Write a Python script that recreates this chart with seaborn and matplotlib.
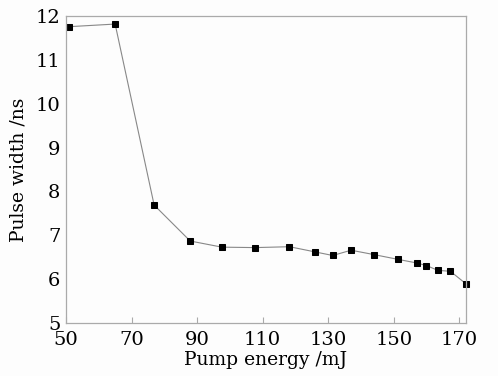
import matplotlib
matplotlib.use("Agg")
import matplotlib.pyplot as plt
import seaborn as sns
import pandas as pd

pump_energy = [50.9, 65.0, 76.9, 87.9, 97.6, 107.7, 118.2, 126.1, 131.4, 137.0,
               144.0, 151.4, 157.0, 160.0, 163.5, 167.3, 172.1]
pulse_width = [11.76, 11.82, 7.69, 6.87, 6.73, 6.72, 6.74, 6.62, 6.54, 6.66,
               6.56, 6.45, 6.37, 6.31, 6.20, 6.18, 5.89]
x_ticks = [50, 70, 90, 110, 130, 150, 170]
y_ticks = [5, 6, 7, 8, 9, 10, 11, 12]

sns.set_theme(style="ticks")
plt.rcParams['font.family'] = ['DejaVu Serif']
plt.rcParams['text.color'] = 'black'
plt.rcParams['axes.labelcolor'] = 'black'
plt.rcParams['xtick.color'] = 'black'
plt.rcParams['ytick.color'] = 'black'

df = pd.DataFrame({"Pump energy /mJ": pump_energy, "Pulse width /ns": pulse_width})

fig = plt.figure(figsize=(4.98, 3.76), dpi=100)
fig.patch.set_facecolor("#fdfdfd")
ax = fig.add_axes([0.1325, 0.141, 0.8035, 0.816])
ax.set_facecolor("#fdfdfd")
sns.lineplot(data=df, x="Pump energy /mJ", y="Pulse width /ns", ax=ax,
             color="#888888", linewidth=0.8, marker="s", markersize=4.3,
             markerfacecolor="black", markeredgecolor="black", sort=False,
             clip_on=False)

ax.set_xlim(50, 172.1)
ax.set_ylim(5, 12)
ax.set_xticks(x_ticks)
ax.set_yticks(y_ticks)
ax.tick_params(axis="x", direction="in", length=4, width=0.8, color="#aaaaaa",
               labelsize=14, pad=6, labelcolor="black")
ax.tick_params(axis="y", direction="in", length=0, labelsize=14, pad=4,
               labelcolor="black")
for s in ax.spines.values():
    s.set_color("#aaaaaa")
    s.set_linewidth(0.9)
ax.set_xlabel("Pump energy /mJ", fontsize=13.5, labelpad=1, color="black")
ax.set_ylabel("Pulse width /ns", fontsize=13.5, labelpad=6, color="black")
fig.savefig("out.png", dpi=100, facecolor=fig.get_facecolor())
